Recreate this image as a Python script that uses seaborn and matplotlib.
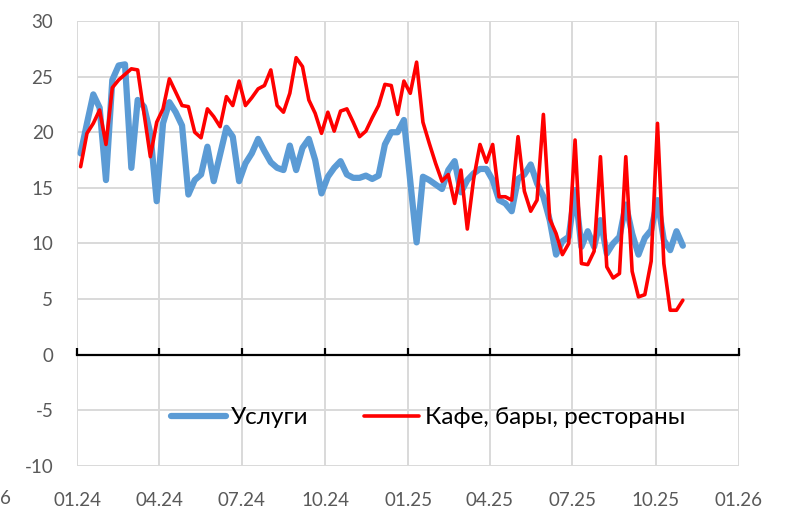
import numpy as np
import pandas as pd
import matplotlib
matplotlib.use("Agg")
import matplotlib.pyplot as plt
import matplotlib.dates as mdates
import seaborn as sns

# ── weekly series, values ───────────────────────────────────────────────────
start_date = "2024-01-05"

services = [
    18.1, 20.8, 23.4, 22.2, 15.7, 24.7, 26.0, 26.1, 16.8, 22.9,
    22.3, 19.9, 13.8, 20.8, 22.7, 21.8, 20.6, 14.4, 15.7, 16.2,
    18.7, 15.6, 18.0, 20.4, 19.6, 15.6, 17.2, 18.1, 19.4, 18.3,
    17.3, 16.8, 16.6, 18.8, 16.6, 18.6, 19.4, 17.5, 14.5, 16.0,
    16.8, 17.4, 16.2, 15.9, 15.9, 16.1, 15.8, 16.1, 18.9, 20.0,
    20.0, 21.1, 15.6, 10.1, 16.0, 15.7, 15.3, 14.9, 16.6, 17.4,
    14.6, 15.7, 16.3, 16.7, 16.7, 15.7, 13.9, 13.6, 12.9, 15.8,
    16.2, 17.1, 15.4, 14.2, 12.1, 9.0, 10.2, 10.6, 14.8, 9.7,
    11.1, 9.7, 12.1, 9.1, 10.0, 10.6, 13.5, 10.9, 9.0, 10.5,
    11.2, 13.9, 10.3, 9.4, 11.1, 9.8,
]

cafes = [
    16.9, 19.9, 20.8, 22.0, 18.9, 24.0, 24.7, 25.2, 25.7, 25.6,
    21.7, 17.8, 20.9, 22.1, 24.8, 23.6, 22.4, 22.3, 20.0, 19.5,
    22.1, 21.4, 20.5, 23.2, 22.4, 24.6, 22.4, 23.1, 23.9, 24.2,
    25.6, 22.4, 21.8, 23.5, 26.7, 25.9, 22.9, 21.7, 19.9, 21.8,
    20.1, 21.9, 22.1, 20.9, 19.6, 20.1, 21.3, 22.4, 24.3, 24.2,
    21.6, 24.6, 23.5, 26.3, 20.9, 19.0, 17.2, 15.6, 16.2, 13.6,
    16.6, 11.3, 15.8, 18.9, 17.3, 18.9, 14.2, 14.2, 13.9, 19.6,
    14.7, 12.9, 13.9, 21.6, 12.2, 10.9, 9.0, 10.0, 19.3, 8.2,
    8.1, 9.3, 17.8, 7.9, 6.9, 7.3, 17.8, 7.5, 5.2, 5.4,
    8.4, 20.8, 8.2, 4.0, 4.0, 4.9,
]

series_names = ["Услуги", "Кафе, бары, рестораны"]
y_ticks = [-10, -5, 0, 5, 10, 15, 20, 25, 30]
x_range = ["2024-01-01", "2026-01-01"]

dates = pd.date_range(start_date, periods=len(services), freq="7D")
df = pd.DataFrame({"date": dates, "services": services, "cafes": cafes})

# ── plot ────────────────────────────────────────────────────────────────────
sns.set_style("white")
plt.rcParams["font.family"] = ["Lato", "DejaVu Sans"]
plt.rcParams["axes.unicode_minus"] = False

fig = plt.figure(figsize=(7.93, 5.08), dpi=100)
ax = fig.add_axes([0.0971, 0.0827, 0.8348, 0.876])

grid_c = "#d9d9d9"
ax.grid(True, color=grid_c, lw=1.4, zorder=0)
ax.set_axisbelow(True)

sns.lineplot(data=df, x="date", y="services", ax=ax, color="#5B9BD5",
             lw=4.5, label=series_names[0], solid_capstyle="round",
             solid_joinstyle="round", zorder=3)
sns.lineplot(data=df, x="date", y="cafes", ax=ax, color="#FF0000",
             lw=2.6, label=series_names[1], solid_joinstyle="round", zorder=4)

ax.set_xlim(pd.Timestamp(x_range[0]), pd.Timestamp(x_range[1]))
ax.set_ylim(y_ticks[0], y_ticks[-1])
ax.set_yticks(y_ticks)
ax.xaxis.set_major_locator(mdates.MonthLocator(bymonth=[1, 4, 7, 10]))
ax.xaxis.set_major_formatter(mdates.DateFormatter("%m.%y"))
ax.set_xlabel("")
ax.set_ylabel("")

for side in ["left", "right", "bottom"]:
    ax.spines[side].set_visible(False)
# zero line with upward ticks (top spine moved to y=0)
ax.spines["top"].set_visible(True)
ax.spines["top"].set_position(("data", 0))
ax.spines["top"].set_color("black")
ax.spines["top"].set_linewidth(1.6)
ax.spines["top"].set_zorder(2)

ax.tick_params(axis="x", bottom=False, top=True, labelbottom=True, labeltop=False,
               direction="out", length=5, width=1.6, color="black",
               pad=14, labelsize=13.5, labelcolor="#595959")
ax.tick_params(axis="y", left=False, length=0, pad=17, labelsize=13.5,
               labelcolor="#595959")

leg = ax.legend(loc="center", bbox_to_anchor=(0.530, 0.108), ncol=2,
                frameon=False, fontsize=17.5, handlelength=2.26,
                handletextpad=0.22, columnspacing=2.3)
for t in leg.get_texts():
    t.set_color("black")

# clipped label at the left edge of the original picture
fig.text(0.0, 1 - 498 / 508, "6", ha="left", va="center", fontsize=13.5,
         color="#595959")

fig.savefig("out.png", dpi=100, facecolor="white")
